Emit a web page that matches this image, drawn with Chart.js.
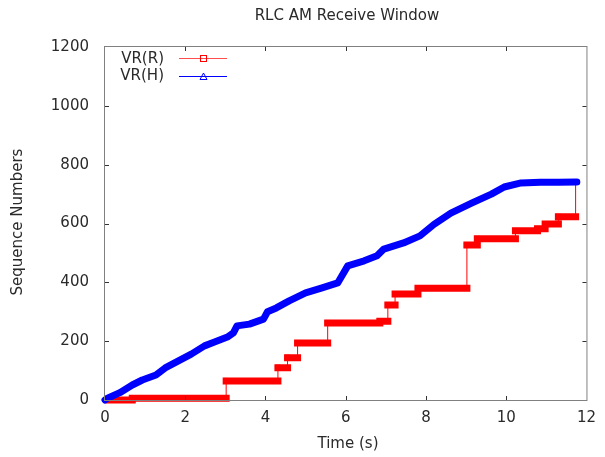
<!DOCTYPE html>
<html>
<head>
<meta charset="utf-8">
<title>RLC AM Receive Window</title>
<script src="https://cdn.jsdelivr.net/npm/chart.js@4.4.1/dist/chart.umd.min.js"></script>
<style>
  html, body { margin: 0; padding: 0; background: #fff; }
</style>
</head>
<body>
<canvas id="chart" width="605" height="457"></canvas>
<script>
/* --------------------------
   DATA
-------------------------- */
const xTicks = [0, 2, 4, 6, 8, 10, 12];
const yTicks = [0, 200, 400, 600, 800, 1000, 1200];

// VR(H): highest received sequence number
const vrhTime = [0, 0.05, 0.37, 0.68, 0.93, 1.27, 1.5, 1.83, 2.15, 2.48, 2.73, 3.05, 3.2, 3.29, 3.6, 3.95, 4.05, 4.27, 4.59, 5.0, 5.41, 5.8, 6.05, 6.46, 6.78, 6.95, 7.44, 7.85, 8.2, 8.62, 9.15, 9.63, 9.95, 10.37, 10.85, 11.3, 11.76];
const vrhSeq  = [0, 5, 25, 51, 68, 85, 109, 133, 156, 184, 197, 214, 228, 252, 258, 275, 300, 313, 337, 364, 381, 398, 456, 473, 490, 513, 534, 558, 597, 635, 670, 700, 724, 738, 740, 740, 741];

// VR(R): next expected in-sequence number (changes in steps)
const vrrTime = [0.1, 0.68, 3.02, 4.31, 4.55, 4.8, 5.55, 6.85, 7.05, 7.23, 7.8, 9.02, 9.28, 10.23, 10.78, 10.97, 11.3, 11.73];
const vrrSeq  = [0, 6, 65, 110, 144, 194, 262, 268, 323, 360, 380, 527, 548, 575, 582, 598, 623, 741];

const FONT = "'DejaVu Sans', sans-serif";
const TEXT = "#2a2a2a";

/* --------------------------
   SERIES
-------------------------- */
const vrhPoints = vrhTime.map((t, i) => ({ x: t, y: vrhSeq[i] }));
const vrrPoints = vrrTime.map((t, i) => ({ x: t, y: vrrSeq[i] }));

// each flat run of VR(R) is drawn as a thick bar, runs separated by gaps
const vrrRuns = [];
for (let i = 0; i < vrrTime.length - 1; i++) {
    vrrRuns.push({ x: vrrTime[i], y: vrrSeq[i] });
    vrrRuns.push({ x: vrrTime[i + 1], y: vrrSeq[i] });
    vrrRuns.push({ x: vrrTime[i + 1], y: null });
}

/* --------------------------
   FRAME, TITLES, KEY
-------------------------- */
const frame = {
    id: "frame",
    afterDraw(chart) {
        const { ctx, chartArea: a, scales: { x, y } } = chart;
        ctx.save();

        ctx.strokeStyle = "#808080";
        ctx.lineWidth = 1;
        ctx.strokeRect(a.left - 0.5, a.top - 0.5, a.right - a.left + 1, a.bottom - a.top + 1);

        ctx.strokeStyle = "#333";
        ctx.beginPath();
        xTicks.slice(1, -1).forEach(v => {
            const px = Math.round(x.getPixelForValue(v)) + 0.5;
            ctx.moveTo(px, a.bottom); ctx.lineTo(px, a.bottom - 4);
            ctx.moveTo(px, a.top); ctx.lineTo(px, a.top + 4);
        });
        yTicks.slice(1, -1).forEach(v => {
            const py = Math.round(y.getPixelForValue(v)) + 0.5;
            ctx.moveTo(a.left, py); ctx.lineTo(a.left + 4, py);
            ctx.moveTo(a.right, py); ctx.lineTo(a.right - 4, py);
        });
        ctx.stroke();

        ctx.fillStyle = TEXT;
        ctx.font = "15px " + FONT;
        ctx.textAlign = "center";
        ctx.textBaseline = "middle";
        ctx.fillText("RLC AM Receive Window", 347, 16);
        ctx.fillText("Time (s)", 348, 444);

        ctx.save();
        ctx.translate(18, 222);
        ctx.rotate(-Math.PI / 2);
        ctx.fillText("Sequence Numbers", 0, 0);
        ctx.restore();

        // key
        ctx.textAlign = "right";
        ctx.fillText("VR(R)", 164, 59);
        ctx.fillText("VR(H)", 164, 76);

        ctx.lineWidth = 1;
        ctx.strokeStyle = "rgba(255,0,0,0.7)";
        ctx.beginPath();
        ctx.moveTo(179, 58.5); ctx.lineTo(227, 58.5);
        ctx.stroke();
        ctx.strokeStyle = "#ff0000";
        ctx.strokeRect(200.5, 55.5, 6, 6);

        ctx.strokeStyle = "#0000ff";
        ctx.beginPath();
        ctx.moveTo(179, 76.5); ctx.lineTo(227, 76.5);
        ctx.stroke();
        ctx.beginPath();
        ctx.moveTo(203.5, 73); ctx.lineTo(207, 79.5); ctx.lineTo(200, 79.5); ctx.closePath();
        ctx.stroke();

        ctx.restore();
    }
};

/* --------------------------
   CHART
-------------------------- */
new Chart(document.getElementById("chart"), {
    type: "scatter",
    data: {
        datasets: [
            {
                label: "VR(H)",
                data: vrhPoints,
                showLine: true,
                borderColor: "#0000ff",
                borderWidth: 7,
                borderJoinStyle: "round",
                borderCapStyle: "round",
                pointRadius: 0,
                clip: false
            },
            {
                label: "VR(R)",
                data: vrrPoints,
                showLine: true,
                stepped: "before",
                borderColor: "#ff0000",
                borderWidth: 1,
                pointStyle: "rect",
                pointRadius: 3.5,
                pointBorderColor: "#ff0000",
                pointBackgroundColor: "rgba(0,0,0,0)",
                pointBorderWidth: 1,
                clip: false
            },
            {
                label: "VR(R) runs",
                data: vrrRuns,
                showLine: true,
                spanGaps: false,
                borderColor: "#ff0000",
                borderWidth: 7,
                borderCapStyle: "square",
                pointRadius: 0,
                clip: false
            }
        ]
    },
    options: {
        responsive: false,
        animation: false,
        layout: { padding: { top: 47, right: 7, left: 0, bottom: 0 } },
        plugins: {
            legend: { display: false },
            title: { display: false },
            tooltip: { enabled: false }
        },
        scales: {
            x: {
                type: "linear",
                min: 0,
                max: 12,
                afterBuildTicks: s => { s.ticks = xTicks.map(v => ({ value: v })); },
                afterFit: s => { s.height = 57; },
                grid: { display: false, drawTicks: false },
                border: { display: false },
                ticks: {
                    autoSkip: false,
                    maxRotation: 0,
                    padding: 9,
                    color: TEXT,
                    font: { family: FONT, size: 15 },
                    callback: v => String(v)
                }
            },
            y: {
                type: "linear",
                min: 0,
                max: 1200,
                afterBuildTicks: s => { s.ticks = yTicks.map(v => ({ value: v })); },
                afterFit: s => { s.width = 105; },
                grid: { display: false, drawTicks: false },
                border: { display: false },
                ticks: {
                    padding: 16,
                    color: TEXT,
                    font: { family: FONT, size: 15 },
                    callback: v => String(v)
                }
            }
        }
    },
    plugins: [frame]
});
</script>
</body>
</html>
